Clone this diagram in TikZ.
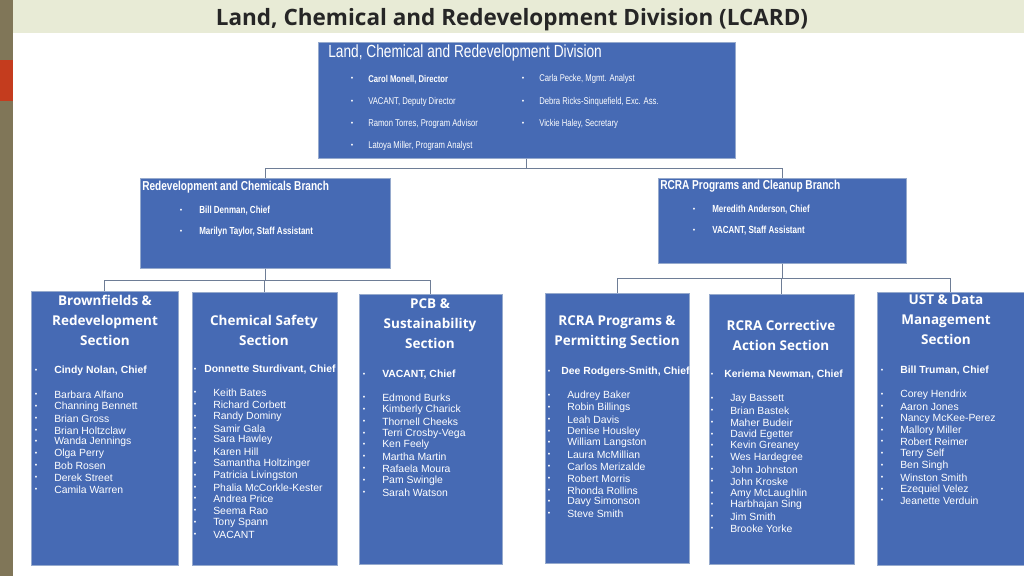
\documentclass[tikz,border=0pt]{standalone}
\usepackage{fontspec}
\setmainfont{Liberation Sans}
\newfontfamily\narrowfont[FakeStretch=0.78]{Liberation Sans}
\newfontfamily\headfont{Open Sans}
\definecolor{boxblue}{RGB}{70,106,180}
\definecolor{boxedge}{RGB}{150,170,205}
\definecolor{bandgreen}{RGB}{232,235,214}
\definecolor{olive}{RGB}{128,118,88}
\definecolor{slidered}{RGB}{196,60,30}
\definecolor{linkgray}{RGB}{110,125,150}
\begin{document}
\begin{tikzpicture}[
        x=0.025cm, y=-0.025cm,
        orgbox/.style={
            rectangle,
            draw=boxedge,
            fill=boxblue,
            inner sep=0pt
        },
        link/.style={
            draw=linkgray,
            line width=0.6pt
        },
        bul/.style={
            text=white,
            font=\fontsize{5}{5}\selectfont,
            inner sep=0pt
        },
        person/.style={
            text=white,
            anchor=west,
            inner sep=0pt,
            font=\fontsize{7.4}{8}\selectfont
        },
        chief/.style={
            person,
            font=\bfseries\fontsize{7.4}{8}\selectfont
        },
        small/.style={
            text=white,
            anchor=west,
            inner sep=0pt,
            font=\narrowfont\fontsize{7}{8}\selectfont
        },
        boxhead/.style={
            text=white,
            align=center,
            inner sep=0pt,
            font=\headfont\bfseries\fontsize{9.6}{14.2}\selectfont
        }
    ]
    \useasboundingbox (0,0) rectangle (1024,576);

    % --- Slide background ---
    \fill[white] (0,0) rectangle (1024,576);
    \fill[bandgreen] (0,0) rectangle (1024,33);
    \fill[olive] (0,0) rectangle (13,576);
    \fill[slidered] (0,60) rectangle (13,101);
    \node[font=\headfont\bfseries\fontsize{16}{18}\selectfont, text=black!85] (title) at (512,20)
        {Land, Chemical and Redevelopment Division (LCARD)};

    % --- Boxes ---
    \node[orgbox, minimum width=417*0.025cm, minimum height=116*0.025cm, anchor=north west] (div) at (318,42) {};
    \node[orgbox, minimum width=250*0.025cm, minimum height=90*0.025cm, anchor=north west] (rcb) at (140,178) {};
    \node[orgbox, minimum width=248*0.025cm, minimum height=85*0.025cm, anchor=north west] (rpb) at (658,178) {};
    \node[orgbox, minimum width=147*0.025cm, minimum height=274*0.025cm, anchor=north west] (brs) at (31,291) {};
    \node[orgbox, minimum width=145*0.025cm, minimum height=273*0.025cm, anchor=north west] (css) at (192,292) {};
    \node[orgbox, minimum width=143*0.025cm, minimum height=270*0.025cm, anchor=north west] (pcb) at (359,294) {};
    \node[orgbox, minimum width=144*0.025cm, minimum height=270*0.025cm, anchor=north west] (rps) at (545,293) {};
    \node[orgbox, minimum width=145*0.025cm, minimum height=270*0.025cm, anchor=north west] (cas) at (709,294) {};
    \node[orgbox, minimum width=147*0.025cm, minimum height=273*0.025cm, anchor=north west] (ust) at (877,292) {};

    % Connectors
    \draw[link] (div.south) -- ++(0,10) -| (rcb.north);
    \draw[link] (div.south) -- ++(0,10) -| (rpb.north);
    \draw[link] (rcb.south) -- ++(0,12) -| (brs.north);
    \draw[link] (rcb.south) -- ++(0,12) -| (css.north);
    \draw[link] (rcb.south) -- ++(0,12) -| (pcb.north);
    \draw[link] (rpb.south) -- ++(0,15) -| (rps.north);
    \draw[link] (rpb.south) -- ++(0,15) -| (cas.north);
    \draw[link] (rpb.south) -- ++(0,15) -| (ust.north);

    % --- Division box ---
    \node[text=white, anchor=west, inner sep=0pt, font=\narrowfont\fontsize{12.5}{14}\selectfont] (divt) at (328,53)
        {Land, Chemical and Redevelopment Division};
    \foreach \t [count=\i] in {{\bfseries Carol Monell, Director}, {VACANT, Deputy Director},
        {Ramon Torres, Program Advisor}, {Latoya Miller, Program Analyst}} {
        \node[bul] (dbl\i) at (352,57+22.3*\i) {\textbullet};
        \node[small] (dnm\i) at (368,57+22.3*\i) {\t};
    }
    \foreach \t [count=\i] in {{Carla Pecke, Mgmt. Analyst}, {Debra Ricks-Sinquefield, Exc. Ass.},
        {Vickie Haley, Secretary}} {
        \node[bul] (dbr\i) at (523,57+22.3*\i) {\textbullet};
        \node[small] (dnr\i) at (539,57+22.3*\i) {\t};
    }

    % --- Branches ---
    \node[text=white, anchor=west, inner sep=0pt, font=\narrowfont\bfseries\fontsize{9.2}{11}\selectfont] (rcbt) at (142,187)
        {Redevelopment and Chemicals Branch};
    \node[bul] (rcb1) at (181,211) {\textbullet};
    \node[small, font=\narrowfont\bfseries\fontsize{7.3}{8}\selectfont] (rcbn1) at (199,211) {Bill Denman, Chief};
    \node[bul] (rcb2) at (181,232) {\textbullet};
    \node[small, font=\narrowfont\bfseries\fontsize{7.3}{8}\selectfont] (rcbn2) at (199,232) {Marilyn Taylor, Staff Assistant};

    \node[text=white, anchor=west, inner sep=0pt, font=\narrowfont\bfseries\fontsize{9.2}{11}\selectfont] (rpbt) at (660,186)
        {RCRA Programs and Cleanup Branch};
    \node[bul] (rpb1) at (694,210) {\textbullet};
    \node[small, font=\narrowfont\bfseries\fontsize{7.3}{8}\selectfont] (rpbn1) at (712,210) {Meredith Anderson, Chief};
    \node[bul] (rpb2) at (694,231) {\textbullet};
    \node[small, font=\narrowfont\bfseries\fontsize{7.3}{8}\selectfont] (rpbn2) at (712,231) {VACANT, Staff Assistant};

    % --- Section headings ---
    \node[boxhead] (brsh) at (105,320) {Brownfields \&\\Redevelopment\\Section};
    \node[boxhead] (cssh) at (264,330) {Chemical Safety\\Section};
    \node[boxhead] (pcbh) at (430,324) {PCB \&\\Sustainability\\Section};
    \node[boxhead] (rpsh) at (617,332) {RCRA Programs \&\\Permitting Section};
    \node[boxhead] (cash) at (781,335) {RCRA Corrective\\Action Section};
    \node[boxhead] (usth) at (946,320) {UST \& Data\\Management\\Section};

    % --- Section staff ---
    \node[bul] (brsb) at (36,371) {\textbullet};
    \node[chief] (brsc) at (54,371) {Cindy Nolan, Chief};
    \foreach \n [count=\i] in {Barbara Alfano, Channing Bennett, Brian Gross, Brian Holtzclaw,
        Wanda Jennings, Olga Perry, Bob Rosen, Derek Street, Camila Warren} {
        \node[bul] (brsb\i) at (36,383.2+11.8*\i) {\textbullet};
        \node[person] (brsn\i) at (54,383.2+11.8*\i) {\n};
    }

    \node[bul] (cssb) at (195,370) {\textbullet};
    \node[chief] (cssc) at (204,370) {Donnette Sturdivant, Chief};
    \foreach \n [count=\i] in {Keith Bates, Richard Corbett, Randy Dominy, Samir Gala, Sara Hawley,
        Karen Hill, Samantha Holtzinger, Patricia Livingston, Phalia McCorkle-Kester,
        Andrea Price, Seema Rao, Tony Spann, VACANT} {
        \node[bul] (cssb\i) at (195,381.2+11.8*\i) {\textbullet};
        \node[person] (cssn\i) at (213,381.2+11.8*\i) {\n};
    }

    \node[bul] (pcbb) at (364,375) {\textbullet};
    \node[chief] (pcbc) at (382,375) {VACANT, Chief};
    \foreach \n [count=\i] in {Edmond Burks, Kimberly Charick, Thornell Cheeks, Terri Crosby-Vega,
        Ken Feely, Martha Martin, Rafaela Moura, Pam Swingle, Sarah Watson} {
        \node[bul] (pcbb\i) at (364,386.2+11.8*\i) {\textbullet};
        \node[person] (pcbn\i) at (382,386.2+11.8*\i) {\n};
    }

    \node[bul] (rpsb) at (549,372) {\textbullet};
    \node[chief] (rpsc) at (561,372) {Dee Rodgers-Smith, Chief};
    \foreach \n [count=\i] in {Audrey Baker, Robin Billings, Leah Davis, Denise Housley,
        William Langston, Laura McMillian, Carlos Merizalde, Robert Morris, Rhonda Rollins,
        Davy Simonson, Steve Smith} {
        \node[bul] (rpsb\i) at (549,384.2+11.8*\i) {\textbullet};
        \node[person] (rpsn\i) at (567,384.2+11.8*\i) {\n};
    }

    \node[bul] (casb) at (712,375) {\textbullet};
    \node[chief] (casc) at (724,375) {Keriema Newman, Chief};
    \foreach \n [count=\i] in {Jay Bassett, Brian Bastek, Maher Budeir, David Egetter,
        Kevin Greaney, Wes Hardegree, John Johnston, John Kroske, Amy McLaughlin,
        Harbhajan Sing, Jim Smith, Brooke Yorke} {
        \node[bul] (casb\i) at (712,387.2+11.8*\i) {\textbullet};
        \node[person] (casn\i) at (730,387.2+11.8*\i) {\n};
    }

    \node[bul] (ustb) at (882,371) {\textbullet};
    \node[chief] (ustc) at (900,371) {Bill Truman, Chief};
    \foreach \n [count=\i] in {Corey Hendrix, Aaron Jones, Nancy McKee-Perez, Mallory Miller,
        Robert Reimer, Terry Self, Ben Singh, Winston Smith, Ezequiel Velez, Jeanette Verduin} {
        \node[bul] (ustb\i) at (882,383.2+11.8*\i) {\textbullet};
        \node[person] (ustn\i) at (900,383.2+11.8*\i) {\n};
    }

\end{tikzpicture}
\end{document}
